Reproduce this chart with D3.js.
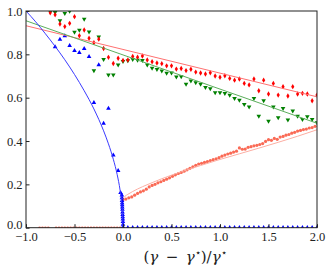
<!DOCTYPE html>
<html>
<head>
<meta charset="utf-8">
<script src="https://cdn.jsdelivr.net/npm/d3@7"></script>
<style>
  body { margin: 0; background: #fff; }
  svg { display: block; }
</style>
</head>
<body>
<div id="wrapper"></div>
<script>
// data
var stepX = [-0.75, -0.70, -0.65, -0.60, -0.55, -0.50, -0.45, -0.40, -0.35, -0.30, -0.25, -0.20, -0.15, -0.10, -0.05,
  0.00, 0.05, 0.10, 0.15, 0.20, 0.25, 0.30, 0.35, 0.40, 0.45, 0.50, 0.55, 0.60, 0.65, 0.70, 0.75, 0.80, 0.85, 0.90, 0.95,
  1.00, 1.05, 1.10, 1.15, 1.20, 1.25, 1.30, 1.35, 1.40, 1.45, 1.50, 1.55, 1.60, 1.65, 1.70, 1.75, 1.80, 1.85, 1.90, 1.95, 2.00];
var redY = [0.992, 0.983, 0.940, 0.928, 0.943, 0.974, 0.886, 0.912, 0.874, 0.854, 0.870, 0.827, 0.786, 0.758, 0.782,
  0.772, 0.774, 0.790, 0.787, 0.792, 0.774, 0.766, 0.760, 0.757, 0.747, 0.747, 0.732, 0.735, 0.725, 0.731, 0.718, 0.714, 0.709, 0.715, 0.700,
  0.694, 0.701, 0.689, 0.681, 0.686, 0.666, 0.659, 0.686, 0.632, 0.681, 0.617, 0.666, 0.612, 0.651, 0.608, 0.651, 0.617, 0.620, 0.617, 0.586, 0.612];
var greenY = [0.997, 0.993, 0.955, 0.989, 0.999, 0.902, 0.912, 0.962, 0.904, 0.725, 0.881, 0.777, 0.705, 0.705, 0.751,
  0.767, 0.771, 0.777, 0.773, 0.772, 0.751, 0.736, 0.731, 0.724, 0.713, 0.714, 0.696, 0.697, 0.663, 0.678, 0.669, 0.663, 0.647, 0.642, 0.623,
  0.623, 0.620, 0.612, 0.597, 0.589, 0.569, 0.558, 0.597, 0.515, 0.586, 0.492, 0.558, 0.508, 0.551, 0.497, 0.539, 0.515, 0.500, 0.512, 0.500, 0.485];

var blueX = [-0.70, -0.65, -0.60, -0.55, -0.50, -0.45, -0.40, -0.35, -0.30, -0.25, -0.20, -0.15, -0.10, -0.05, -0.025,
  -0.012, -0.011, -0.010, -0.009, -0.008, -0.007, -0.006, -0.005, -0.004, -0.003, -0.002, -0.001, 0.0, 0.0];
var blueY = [0.835, 0.869, 0.885, 0.840, 0.817, 0.808, 0.826, 0.789, 0.577, 0.751, 0.482, 0.551, 0.335, 0.263, 0.162,
  0.150, 0.138, 0.125, 0.115, 0.105, 0.095, 0.085, 0.072, 0.060, 0.050, 0.040, 0.028, 0.015, 0.004];
var blueZeroX = [0.05, 0.10, 0.15, 0.20, 0.25, 0.30, 0.35, 0.40, 0.45, 0.50, 0.55, 0.60, 0.65, 0.70, 0.75, 0.80, 0.85, 0.90, 0.95, 1.00,
  1.05, 1.10, 1.15, 1.20, 1.25, 1.30, 1.35, 1.40, 1.45, 1.50, 1.55, 1.60, 1.65, 1.70, 1.75, 1.80, 1.85, 1.90, 1.95, 2.00];

var salmonZeroX = [-0.86, -0.83, -0.80, -0.77, -0.69, -0.66, -0.63, -0.60, -0.57, -0.54, -0.51, -0.48, -0.45, -0.42, -0.39,
  -0.36, -0.33, -0.30, -0.27, -0.24, -0.21, -0.18, -0.15, -0.12, -0.09, -0.06, -0.03];
var salmonX = [0.00, 0.03, 0.06, 0.09, 0.12, 0.15, 0.18, 0.21, 0.24, 0.27, 0.30, 0.33, 0.36, 0.39, 0.42, 0.45, 0.48, 0.51, 0.54, 0.57,
  0.60, 0.63, 0.66, 0.69, 0.72, 0.75, 0.78, 0.81, 0.84, 0.87, 0.90, 0.93, 0.96, 0.99, 1.02, 1.05, 1.08, 1.11, 1.14, 1.17,
  1.20, 1.23, 1.26, 1.29, 1.32, 1.35, 1.38, 1.41, 1.44, 1.47, 1.50, 1.53, 1.56, 1.59, 1.62, 1.65, 1.68, 1.71, 1.74, 1.77,
  1.80, 1.83, 1.86, 1.89, 1.92, 1.95, 1.98];
var salmonY = [0.130, 0.132, 0.138, 0.142, 0.150, 0.158, 0.165, 0.170, 0.178, 0.188, 0.195, 0.200, 0.207, 0.212, 0.218, 0.224, 0.230, 0.237, 0.244, 0.250,
  0.255, 0.261, 0.267, 0.274, 0.281, 0.288, 0.294, 0.297, 0.301, 0.305, 0.310, 0.314, 0.318, 0.323, 0.330, 0.335, 0.340, 0.344, 0.349, 0.353,
  0.368, 0.362, 0.363, 0.371, 0.374, 0.378, 0.380, 0.384, 0.388, 0.398, 0.406, 0.403, 0.412, 0.408, 0.418, 0.421, 0.427, 0.430, 0.436, 0.440,
  0.446, 0.449, 0.453, 0.455, 0.460, 0.462, 0.468];

// fitted curves
var redFitX = [-1, 2], redFitY = [0.932, 0.604];
var greenFitX = [-1, 2], greenFitY = [0.955, 0.482];
var blueFitX = [-1, -0.9, -0.8, -0.7, -0.6, -0.5, -0.4, -0.3, -0.2, -0.15, -0.1, -0.06, -0.03, -0.015, -0.005, 0];
var blueFitY = [1.0, 0.95, 0.895, 0.837, 0.775, 0.707, 0.632, 0.548, 0.447, 0.387, 0.316, 0.245, 0.173, 0.122, 0.070, 0.0];
var salmonFitX = [0, 0.02, 0.05, 0.1, 0.2, 0.3, 0.4, 0.6, 0.8, 1.0, 1.2, 1.4, 1.6, 1.8, 2.0];
var salmonFitY = [0.135, 0.145, 0.154, 0.167, 0.189, 0.208, 0.226, 0.258, 0.287, 0.315, 0.341, 0.367, 0.394, 0.422, 0.452];

var xTicks = [-1.0, -0.5, 0.0, 0.5, 1.0, 1.5, 2.0];
var yTicks = [0.0, 0.2, 0.4, 0.6, 0.8, 1.0];

var dimensions = {
  width: 332,
  height: 268,
  margin: { top: 11, right: 15, bottom: 40.3, left: 26 }
};
dimensions.boundedWidth = dimensions.width - dimensions.margin.left - dimensions.margin.right;
dimensions.boundedHeight = dimensions.height - dimensions.margin.top - dimensions.margin.bottom;

var wrapper = d3.select('#wrapper')
  .append('svg')
  .attr('width', dimensions.width)
  .attr('height', dimensions.height);

var bounds = wrapper.append('g')
  .attr('transform', 'translate(' + dimensions.margin.left + ',' + dimensions.margin.top + ')');

bounds.append('clipPath').attr('id', 'clip')
  .append('rect')
  .attr('width', dimensions.boundedWidth)
  .attr('height', dimensions.boundedHeight);

var xScale = d3.scaleLinear().domain([-1, 2]).range([0, dimensions.boundedWidth]);
var yScale = d3.scaleLinear().domain([0, 1]).range([dimensions.boundedHeight, 0]);

var zip = function (xs, ys) { return xs.map(function (x, i) { return [x, ys[i]]; }); };

var plot = bounds.append('g').attr('clip-path', 'url(#clip)');

var line = d3.line()
  .x(function (d) { return xScale(d[0]); })
  .y(function (d) { return yScale(d[1]); });
var smooth = d3.line()
  .x(function (d) { return xScale(d[0]); })
  .y(function (d) { return yScale(d[1]); })
  .curve(d3.curveMonotoneX);

// marker shapes
var triUp = 'M0,-2.6L2.3,1.4L-2.3,1.4Z';
var triDown = 'M0,2.6L2.3,-1.4L-2.3,-1.4Z';
var thinDiamond = 'M0,-2.7L1.6,0L0,2.7L-1.6,0Z';

function drawMarkers(data, shape, color) {
  plot.append('g').selectAll('path')
    .data(data)
    .enter()
    .append('path')
    .attr('d', shape)
    .attr('transform', function (d) { return 'translate(' + xScale(d[0]) + ',' + yScale(d[1]) + ')'; })
    .attr('fill', color);
}
function drawDots(data, r, color) {
  plot.append('g').selectAll('circle')
    .data(data)
    .enter()
    .append('circle')
    .attr('cx', function (d) { return xScale(d[0]); })
    .attr('cy', function (d) { return yScale(d[1]); })
    .attr('r', r)
    .attr('fill', color);
}

// points
drawDots(zip(salmonZeroX, salmonZeroX.map(function () { return 0; })), 1.3, '#fa6a55');
drawDots(zip(salmonX, salmonY), 1.6, '#fa6a55');
drawMarkers(zip(blueX, blueY), triUp, '#0000ff');
drawMarkers(zip(blueZeroX, blueZeroX.map(function () { return 0; })), triUp, '#0000ff');
drawMarkers(zip(stepX, greenY), triDown, '#008000');
drawMarkers(zip(stepX, redY), thinDiamond, '#ff0000');

// fits
plot.append('path').datum(zip(redFitX, redFitY)).attr('d', line)
  .attr('fill', 'none').attr('stroke', '#ff7070').attr('stroke-width', 1);
plot.append('path').datum(zip(greenFitX, greenFitY)).attr('d', line)
  .attr('fill', 'none').attr('stroke', '#5cae5c').attr('stroke-width', 1);
plot.append('path').datum(zip(blueFitX, blueFitY)).attr('d', smooth)
  .attr('fill', 'none').attr('stroke', '#3b3bff').attr('stroke-width', 1);
plot.append('path').datum(zip(salmonFitX, salmonFitY)).attr('d', smooth)
  .attr('fill', 'none').attr('stroke', '#fcaea3').attr('stroke-width', 1);

// axes
var font = 'Liberation Serif, DejaVu Serif, serif';
var xAxisGenerator = d3.axisBottom(xScale)
  .tickValues(xTicks)
  .tickSizeInner(-3.5)
  .tickSizeOuter(0)
  .tickPadding(4)
  .tickFormat(function (d) { return d3.format('.1f')(d).replace('-', '\u2212'); });
var xAxis = bounds.append('g')
  .attr('transform', 'translate(0,' + dimensions.boundedHeight + ')')
  .call(xAxisGenerator);

var yAxisGenerator = d3.axisLeft(yScale)
  .tickValues(yTicks)
  .tickSizeInner(-3.5)
  .tickSizeOuter(0)
  .tickPadding(3.5)
  .tickFormat(d3.format('.1f'));
var yAxis = bounds.append('g').call(yAxisGenerator);

[xAxis, yAxis].forEach(function (a) {
  a.attr('font-family', font).attr('font-size', 12.5);
  a.select('.domain').remove();
  a.selectAll('line').attr('stroke', '#222');
  a.selectAll('text').attr('fill', '#222');
});
// keep the corner labels apart
yAxis.selectAll('.tick text').filter(function (d) { return d === 0; }).attr('dy', '0.1em');

// frame
bounds.append('rect')
  .attr('width', dimensions.boundedWidth)
  .attr('height', dimensions.boundedHeight)
  .attr('fill', 'none')
  .attr('stroke', '#222')
  .attr('stroke-width', 1);

// x label
var xLabel = wrapper.append('text')
  .attr('x', 185)
  .attr('y', 262)
  .attr('text-anchor', 'middle')
  .attr('fill', '#222')
  .attr('font-family', 'DejaVu Serif, serif')
  .attr('font-size', 15);
xLabel.append('tspan').text('(');
xLabel.append('tspan').attr('font-style', 'italic').text('γ');
xLabel.append('tspan').text('\u2002\u2212\u2002');
xLabel.append('tspan').attr('font-style', 'italic').text('γ');
xLabel.append('tspan').attr('dy', -6).attr('font-size', 10).text('\u22c6');
xLabel.append('tspan').attr('dy', 6).text(')/');
xLabel.append('tspan').attr('font-style', 'italic').text('γ');
xLabel.append('tspan').attr('dy', -6).attr('font-size', 10).text('\u22c6');
</script>
</body>
</html>
